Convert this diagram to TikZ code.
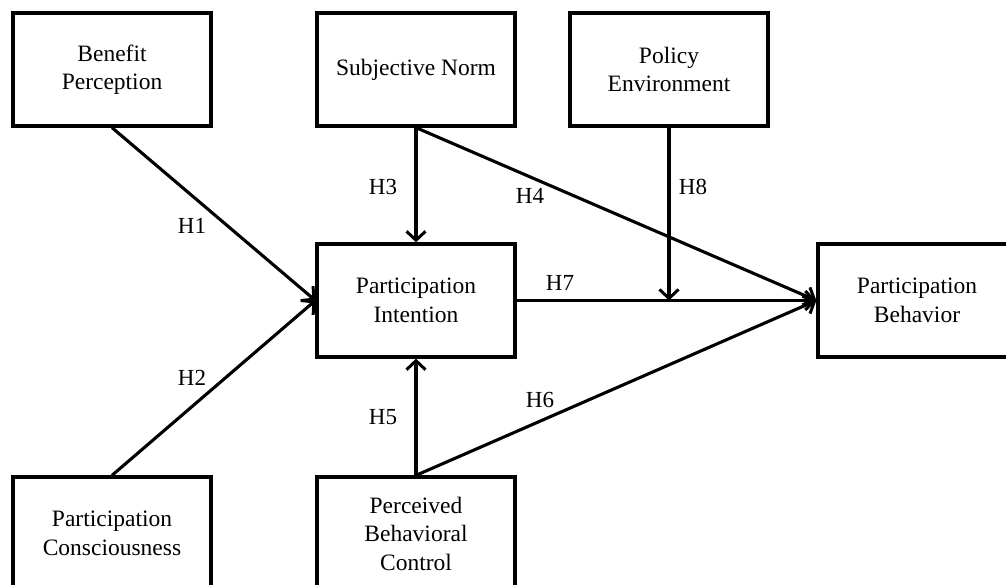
\documentclass[tikz,border=0pt]{standalone}
\usepackage{fontspec}
\setmainfont{Liberation Serif}
\usetikzlibrary{arrows.meta}
\begin{document}
\begin{tikzpicture}[x=1pt,y=-1pt,
  box/.style={draw,line width=3.3pt,minimum width=198pt,minimum height=113pt,align=center,inner sep=0pt,
    font=\fontsize{23.5}{28.5}\selectfont},
  conn/.style={line width=3.1pt,-{Straight Barb[length=9pt,width=19pt,line width=3pt]}},
  lab/.style={font=\fontsize{23}{25}\selectfont}]
\useasboundingbox (0,0) rectangle (1006,585);
\clip (0,0) rectangle (1006,585);
\node[box] (bp) at (112,69.5) {Benefit\\Perception};
\node[box] (sn) at (416,69.5) {Subjective Norm};
\node[box] (pe) at (669,69.5) {Policy\\Environment};
\node[box] (pi) at (416,300.5) {Participation\\Intention};
\node[box] (pb) at (917,300.5) {Participation\\Behavior};
\node[box] (pc) at (112,533.5) {Participation\\Consciousness};
\node[box] (pbc) at (416,533.5) {Perceived\\Behavioral\\Control};
\coordinate (m) at (pe.south |- pi.east);
\draw[conn] (bp.south) -- (pi.west);
\draw[conn] (pc.north) -- (pi.west);
\draw[conn] (sn.south) -- (pi.north);
\draw[conn] (sn.south) -- (pb.west);
\draw[conn] (pe.south) -- (m);
\draw[conn] (pi.east) -- (pb.west);
\draw[conn] (pbc.north) -- (pi.south);
\draw[conn] (pbc.north) -- (pb.west);
\node[lab] at (192,226) {H1};
\node[lab] at (192,378) {H2};
\node[lab] at (383,187) {H3};
\node[lab] at (530,196) {H4};
\node[lab] at (383,417) {H5};
\node[lab] at (540,400) {H6};
\node[lab] at (560,283) {H7};
\node[lab] at (693,187) {H8};
\end{tikzpicture}
\end{document}
